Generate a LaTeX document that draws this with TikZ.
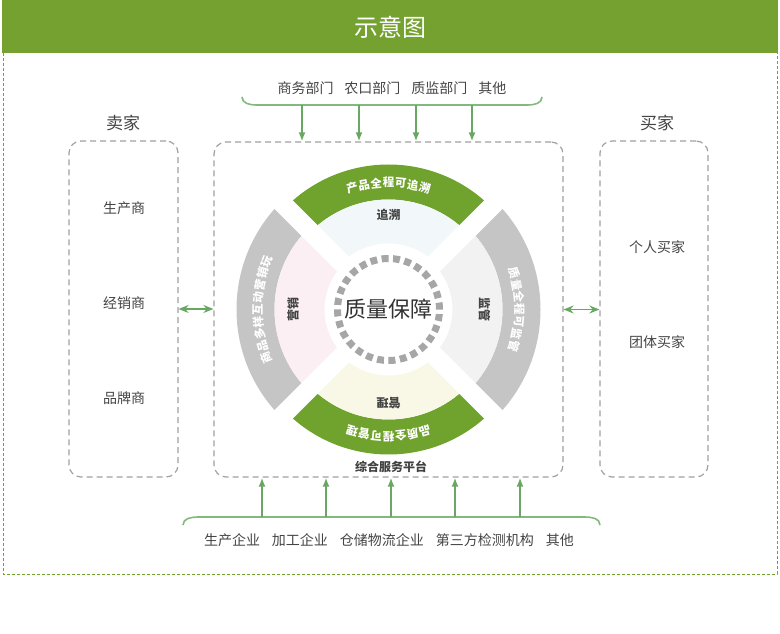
\documentclass[tikz,border=0pt]{standalone}
\usepackage{fontspec}
\setmainfont{Noto Sans CJK SC}
\usetikzlibrary{arrows.meta}
\definecolor{hdrgreen}{RGB}{116,161,47}
\definecolor{ringgreen}{RGB}{112,162,46}
\definecolor{ringgray}{RGB}{197,197,197}
\definecolor{arrgreen}{RGB}{104,168,98}
\definecolor{bracegreen}{RGB}{128,186,124}
\definecolor{boxgray}{RGB}{160,160,160}
\definecolor{txtgray}{RGB}{68,68,68}
\definecolor{tintblue}{RGB}{242,247,250}
\definecolor{tintpink}{RGB}{251,239,243}
\definecolor{tintgray}{RGB}{242,242,242}
\definecolor{tintyellow}{RGB}{249,248,230}
\definecolor{dotgray}{RGB}{166,166,166}
\begin{document}
\begin{tikzpicture}[x=1pt, y=1pt,
    party/.style={draw=boxgray, line width=1.2pt, dash pattern=on 6pt off 4pt, rounded corners=12pt},
    lbl/.style={text=txtgray, font=\fontsize{14}{16}\selectfont},
    hd/.style={text=txtgray, font=\fontsize{17}{20}\selectfont},
    inlbl/.style={text=txtgray, font=\bfseries\fontsize{12}{14}\selectfont},
    ringchar/.style={text=white, inner sep=0pt, font=\bfseries\fontsize{11.5}{12}\selectfont},
    arr/.style={draw=arrgreen, line width=1.6pt, -{Latex[length=9pt,width=7pt]}},
    dblarr/.style={draw=arrgreen, line width=1.6pt, {Stealth[length=10pt,width=8pt]}-{Stealth[length=10pt,width=8pt]}},
    brace/.style={draw=bracegreen, line width=1.6pt},
    gap/.style={draw=white, line width=19pt}]
        \useasboundingbox (0,0) rectangle (780,633);
        \fill [hdrgreen] (2,580) rectangle (778,633);
        \node [text=white, font=\fontsize{24}{28}\selectfont] (title) at (390,606) {示意图};
        \draw [hdrgreen, line width=0.8pt, dash pattern=on 3pt off 2pt] (3,580) -- (3,59) -- (777,59) -- (777,580);
        \node [party, minimum width=109pt, minimum height=336pt] (sellers) at (123.5,324) {};
        \node [party, minimum width=108pt, minimum height=336pt] (buyers) at (654,324) {};
        \node [party, minimum width=349pt, minimum height=335pt] (plat) at (388.5,323.5) {};
        \node [hd] (sellerhd) at (123,510) {卖家};
        \node [hd] (buyerhd) at (657,510) {买家};
        \node [lbl] (prod) at (124,425) {生产商};
        \node [lbl] (dist) at (124,330) {经销商};
        \node [lbl] (brand) at (124,235) {品牌商};
        \node [lbl] (indiv) at (657,386) {个人买家};
        \node [lbl] (group) at (657,291) {团体买家};
        \node [lbl] (depts) at (392,545) {商务部门\hspace{11pt}农口部门\hspace{11pt}质监部门\hspace{11pt}其他};
        \node [lbl] (firms) at (389,93) {生产企业\hspace{12pt}加工企业\hspace{12pt}仓储物流企业\hspace{12pt}第三方检测机构\hspace{12pt}其他};
        \node [text=black!75, font=\bfseries\fontsize{12}{14}\selectfont] (platname) at (391,166) {综合服务平台};
        \draw [brace] (242,536) to[out=-90,in=180] (256,528) -- (528,528) to[out=0,in=-90] (542,536);
        \draw [brace] (183,108) to[out=90,in=180] (198,116) -- (585,116) to[out=0,in=90] (600,108);
        \coordinate (d1) at (302,528);
        \coordinate (d2) at (359,528);
        \coordinate (d3) at (416,528);
        \coordinate (d4) at (472,528);
        \coordinate (f1) at (262,116);
        \coordinate (f2) at (326,116);
        \coordinate (f3) at (391,116);
        \coordinate (f4) at (455,116);
        \coordinate (f5) at (520,116);
        \draw [arr] (d1) -- (d1 |- plat.north);
        \draw [arr] (d2) -- (d2 |- plat.north);
        \draw [arr] (d3) -- (d3 |- plat.north);
        \draw [arr] (d4) -- (d4 |- plat.north);
        \draw [arr] (f1) -- (f1 |- plat.south);
        \draw [arr] (f2) -- (f2 |- plat.south);
        \draw [arr] (f3) -- (f3 |- plat.south);
        \draw [arr] (f4) -- (f4 |- plat.south);
        \draw [arr] (f5) -- (f5 |- plat.south);
        \draw [dblarr] (sellers.east) -- (sellers.east -| plat.west);
        \draw [dblarr] (plat.east) -- (plat.east -| buyers.west);
        \begin{scope}[shift={(plat.center)}]
        \fill [ringgreen] (45:145) arc[start angle=45, end angle=135, radius=145] -- (135:110) arc[start angle=135, end angle=45, radius=110] -- cycle;
        \fill [tintblue] (45:110) arc[start angle=45, end angle=135, radius=110] -- (135:66) arc[start angle=135, end angle=45, radius=66] -- cycle;
        \fill [ringgray] (135:152) arc[start angle=135, end angle=225, radius=152] -- (225:114) arc[start angle=225, end angle=135, radius=114] -- cycle;
        \fill [tintpink] (135:114) arc[start angle=135, end angle=225, radius=114] -- (225:64) arc[start angle=225, end angle=135, radius=64] -- cycle;
        \fill [ringgreen] (225:145) arc[start angle=225, end angle=315, radius=145] -- (315:110) arc[start angle=315, end angle=225, radius=110] -- cycle;
        \fill [tintyellow] (225:110) arc[start angle=225, end angle=315, radius=110] -- (315:66) arc[start angle=315, end angle=225, radius=66] -- cycle;
        \fill [ringgray] (-45:152) arc[start angle=-45, end angle=45, radius=152] -- (45:114) arc[start angle=45, end angle=-45, radius=114] -- cycle;
        \fill [tintgray] (-45:114) arc[start angle=-45, end angle=45, radius=114] -- (45:64) arc[start angle=45, end angle=-45, radius=64] -- cycle;
        \draw [gap] (45:158) -- (225:158);
        \draw [gap] (135:158) -- (315:158);
        \draw [dotgray, line width=7pt, dash pattern=on 6.9pt off 4.54pt] (0,0) circle [radius=51];
        \node [text=black!80, font=\fontsize{22}{26}\selectfont] (core) at (0,0) {质量保障};
        \node [inlbl] (trace) at (90:94.5) {追溯};
        \node [inlbl, rotate=-90] (superv) at (0:96) {监管};
        \node [inlbl, rotate=180] (mgmt) at (270:93.5) {管理};
        \node [inlbl, rotate=90] (sales) at (180:95.5) {营销};
        \foreach \ch [count=\i] in {产,品,全,程,可,追,溯}
            \node [ringchar, rotate={-(\i-4)*5.55}] (tr\i) at ({90-(\i-4)*5.55}:127) {\ch};
        \foreach \ch [count=\i] in {质,量,全,程,可,监,管}
            \node [ringchar, rotate={-(\i-4)*5.38-90}] (sv\i) at ({-(\i-4)*5.38}:131) {\ch};
        \foreach \ch [count=\i] in {品,质,全,程,可,管,理}
            \node [ringchar, rotate={-(\i-4)*5.55-180}] (mg\i) at ({-90-(\i-4)*5.55}:127) {\ch};
        \foreach \ch [count=\i] in {商,品,多,样,互,动,营,销,玩}
            \node [ringchar, rotate={90-(\i-5)*5.38}] (sl\i) at ({180-(\i-5)*5.38}:131) {\ch};
        \end{scope}
\end{tikzpicture}
\end{document}
